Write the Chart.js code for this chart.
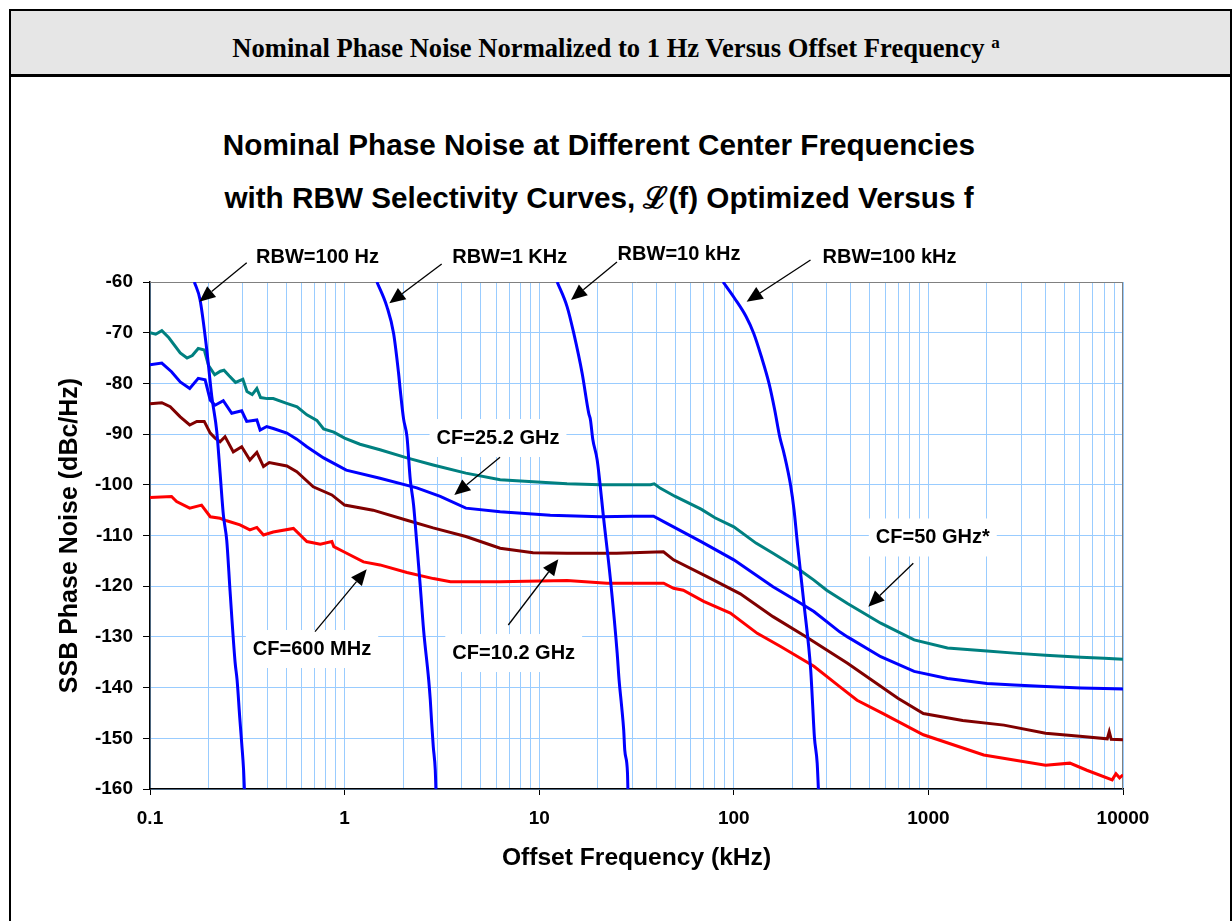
<!DOCTYPE html>
<html>
<head>
<meta charset="utf-8">
<title>Nominal Phase Noise</title>
<script src="https://cdn.jsdelivr.net/npm/chart.js@4.4.1/dist/chart.umd.min.js"></script>
<style>
  html, body { margin: 0; padding: 0; background: #fff; }
  body { width: 1232px; height: 921px; position: relative; overflow: hidden; }
  .frame { position: absolute; left: 9px; top: 9px; width: 1219px; height: 960px; border: 2px solid #000; }
  .header { position: absolute; left: 11px; top: 11px; width: 1219px; height: 63px; background: #e6e6e6; border-bottom: 3px solid #000; }
  .header-text { position: absolute; left: 0; width: 1232px; top: 33px; text-align: center;
    font: bold 26.6px "Liberation Serif", "Times New Roman", serif; line-height: 30px; color: #000; }
  .header-text sup { font-size: 17px; vertical-align: 9px; line-height: 0; }
  .chart-title { position: absolute; left: 0; width: 1198px; top: 118px; text-align: center;
    font: bold 29.7px "Liberation Sans", Arial, sans-serif; line-height: 53px; color: #000; }
  #chart { position: absolute; left: 0; top: 0; }
</style>
</head>
<body>
<div class="frame"></div>
<div class="header"></div>
<div class="header-text">Nominal Phase Noise Normalized to 1 Hz Versus Offset Frequency <sup>a</sup></div>
<div class="chart-title">Nominal Phase Noise at Different Center Frequencies<br>with RBW Selectivity Curves, &#x2112;(f) Optimized Versus f</div>
<canvas id="chart" width="1232" height="921"></canvas>
<script>
// offset frequency in kHz, level in dBc/Hz
const cf50Freq = [0.1,0.107,0.115,0.125,0.143,0.155,0.165,0.177,0.19,0.2,0.215,0.23,0.24,0.255,0.275,0.3,0.315,0.335,0.354,0.37,0.4,0.43,0.5,0.57,0.64,0.72,0.78,0.88,1.0,1.2,1.52,2.09,2.85,4.2,6.3,9.3,13.9,20.6,30,37.3,39,42,50,67.9,80,100,130,159,213,258,300,384,569,845,1253,2000,2760,4000,6080,8000,10000];
const cf50Level = [-70,-70.3,-69.6,-71,-74,-75,-74.5,-73.1,-73.4,-76.5,-78.3,-77.6,-77.4,-78.5,-79.8,-79.2,-81.6,-82.2,-81,-82.8,-83,-83,-83.9,-84.6,-86.2,-87.3,-89,-89.6,-90.8,-92,-93.1,-94.7,-96.1,-97.7,-99,-99.4,-99.8,-100,-100,-100,-99.8,-100.7,-102.3,-104.8,-106.5,-108.3,-111.5,-113.5,-116.5,-118.8,-120.8,-123.4,-127.3,-130.6,-132.2,-132.8,-133.2,-133.6,-134,-134.2,-134.4];

const cf25Freq = [0.1,0.115,0.129,0.143,0.16,0.177,0.192,0.204,0.216,0.238,0.263,0.296,0.314,0.354,0.368,0.398,0.43,0.505,0.568,0.64,0.78,1.02,1.52,2.35,3.1,4.2,6.3,11.4,20.6,30,38.7,45.3,67.9,100,159,213,258,350,384,569,845,1253,2000,2760,4000,6080,8000,10000];
const cf25Level = [-76.3,-76,-77.7,-79.7,-81,-79,-79.3,-83.3,-84.3,-83.4,-85.9,-85.4,-87.5,-87.2,-89.2,-88.5,-88.9,-89.8,-91,-92.5,-94.7,-97.1,-98.7,-100.6,-102.3,-104.6,-105.3,-106,-106.3,-106.2,-106.2,-107.6,-111.2,-114.8,-120.1,-123,-125,-129,-130,-133.9,-136.8,-138.2,-139.2,-139.5,-139.8,-140.1,-140.2,-140.3];

const cf10Freq = [0.1,0.115,0.127,0.143,0.16,0.174,0.19,0.204,0.216,0.229,0.243,0.268,0.296,0.326,0.354,0.383,0.41,0.505,0.568,0.69,0.86,1.0,1.4,2.09,2.85,4.2,6.3,9.3,13.9,25,43.5,49,72.8,108,159,236,350,384,697,942,1500,2443,4000,6000,8300,8500,8700,10000];
const cf10Level = [-84,-83.8,-84.6,-86.6,-88.2,-87.5,-87.5,-89.8,-90.8,-91.5,-90.5,-93.5,-92.5,-95.1,-93.6,-96.4,-95.6,-96.3,-97.4,-100.4,-102,-104,-105,-107,-108.5,-110.2,-112.5,-113.4,-113.5,-113.5,-113.2,-114.8,-118.1,-121.5,-126,-130,-134.2,-135.2,-142.1,-145.1,-146.5,-147.4,-149,-149.6,-150.1,-148.7,-150.2,-150.3];

const cf600Freq = [0.1,0.129,0.137,0.16,0.184,0.204,0.229,0.248,0.29,0.326,0.354,0.383,0.43,0.546,0.64,0.75,0.86,0.88,0.99,1.25,1.52,2.09,2.86,3.5,6.3,13.9,22.3,43.6,49,55,70,96,132,174,258,350,430,582,942,1924,4000,5333,6520,8800,9200,9600,10000];
const cf600Level = [-102.5,-102.3,-103.3,-104.6,-104,-106.3,-106.6,-107.1,-107.9,-108.9,-108.4,-109.9,-109.3,-108.6,-111.2,-111.7,-111.2,-112.2,-113.2,-115.2,-115.8,-117.3,-118.5,-119.1,-119.1,-118.9,-119.4,-119.4,-120.4,-120.8,-123,-125.3,-129.3,-131.9,-135.8,-139.8,-142.5,-145.1,-149.3,-153.3,-155.3,-154.9,-156.3,-158.2,-157,-157.8,-157.2];

// RBW selectivity curves
const rbw100Freq = [0.169,0.1808,0.1958,0.2078,0.2204,0.2292,0.2383,0.248,0.2579,0.2737,0.2802,0.2893,0.296,0.3027,0.3056];
const rbw100Level = [-60,-63.5,-73.4,-82.6,-89.5,-97.7,-106,-111,-121,-135,-138.5,-146,-151,-156.3,-160];
const rbw1kFreq = [1.466,1.651,1.785,1.894,1.932,2.009,2.092,2.175,2.262,2.355,2.448,2.546,2.705,2.756,2.802,2.856,2.924,2.945];
const rbw1kLevel = [-60,-64.9,-70.1,-78,-81.3,-87,-90.5,-99,-104,-112,-120,-128.6,-138.5,-142.4,-147,-151.7,-156.3,-160];
const rbw10kFreq = [12.37,13.92,15.05,16.62,17.97,18.34,18.85,19.86,21.47,23.25,25.16,25.73,26.54,27.18,27.53,28.42,28.56];
const rbw10kLevel = [-60,-64.9,-70.1,-78,-85.9,-87.2,-91,-95.1,-106.9,-118.8,-133.2,-138.5,-143.8,-148.4,-152.4,-156.8,-160];
const rbw100kFreq = [88.1,100.9,115.6,126.5,138.5,151.7,162.2,172.1,181.1,196,204,212.2,229.4,248.4,253.4,259.5,268.2,272.1];
const rbw100kLevel = [-60,-63.2,-66.8,-70.1,-74.7,-80,-85.2,-90.5,-93.8,-100.2,-105,-111.5,-123.5,-136.5,-142.4,-149.7,-154.9,-160];

// axis ticks
const xDecades = [0.1, 1, 10, 100, 1000];
const xSteps = [1, 2, 3, 4, 5, 6, 7, 8, 9];
const xTickLabels = ['0.1', '1', '10', '100', '1000', '10000'];
const xTickValues = [0.1, 1, 10, 100, 1000, 10000];

// callouts: label centre, arrow tail and arrow tip, in (kHz, dBc/Hz)
const calloutText = ['RBW=100 Hz', 'RBW=1 KHz', 'RBW=10 kHz', 'RBW=100 kHz', 'CF=25.2 GHz', 'CF=50 GHz*', 'CF=600 MHz', 'CF=10.2 GHz'];
const calloutAt = [[0.7257,-55.17],[7.054,-55.17],[52.3,-54.48],[631,-55.17],[6.143,-90.77],[1053.4,-110.39],[0.6801,-132.39],[7.396,-133.18]];
const arrowFrom = [[0.3141,-56.19],[3.155,-56.45],[25.1,-56.06],[247.9,-55.66],[6.29,-94.58],[836.3,-115.48],[0.7047,-128.97],[6.937,-127.65]];
const arrowTo = [[0.1792,-63.89],[1.697,-64.2],[14.57,-63.55],[116.4,-63.89],[3.662,-102.01],[491.1,-124.04],[1.299,-116.67],[12.54,-114.69]];

const FONT = '"Liberation Sans", Arial, sans-serif';

function points(freq, level) {
    return freq.map((f, i) => ({ x: f, y: level[i] }));
}

function line(label, freq, level, color, smooth) {
    return {
        label: label,
        data: points(freq, level),
        borderColor: color,
        borderWidth: 3,
        pointRadius: 0,
        cubicInterpolationMode: smooth ? 'monotone' : 'default',
        tension: 0,
        fill: false
    };
}

const callouts = {
    id: 'callouts',
    beforeDatasetsDraw(chart) {
        const { ctx, chartArea: area, scales: { x, y } } = chart;
        ctx.save();
        // top and right frame of the plot
        ctx.strokeStyle = '#808080';
        ctx.lineWidth = 1;
        ctx.beginPath();
        ctx.moveTo(area.left, area.top + 0.5);
        ctx.lineTo(area.right, area.top + 0.5);
        ctx.moveTo(area.right - 0.5, area.top);
        ctx.lineTo(area.right - 0.5, area.bottom);
        ctx.stroke();
        // white boxes behind the labels
        ctx.font = 'bold 20px ' + FONT;
        ctx.fillStyle = '#fff';
        calloutText.forEach((text, i) => {
            const w = ctx.measureText(text).width + 14;
            const cx = x.getPixelForValue(calloutAt[i][0]);
            const cy = y.getPixelForValue(calloutAt[i][1]);
            ctx.fillRect(cx - w / 2, cy - 19, w, 38);
        });
        ctx.restore();
    },
    afterDatasetsDraw(chart) {
        const { ctx, scales: { x, y } } = chart;
        ctx.save();
        ctx.strokeStyle = '#000';
        ctx.fillStyle = '#000';
        ctx.lineWidth = 1.3;
        calloutText.forEach((text, i) => {
            const x0 = x.getPixelForValue(arrowFrom[i][0]);
            const y0 = y.getPixelForValue(arrowFrom[i][1]);
            const x1 = x.getPixelForValue(arrowTo[i][0]);
            const y1 = y.getPixelForValue(arrowTo[i][1]);
            const ang = Math.atan2(y1 - y0, x1 - x0);
            const head = 16, half = 7;
            const bx = x1 - head * Math.cos(ang);
            const by = y1 - head * Math.sin(ang);
            ctx.beginPath();
            ctx.moveTo(x0, y0);
            ctx.lineTo(bx, by);
            ctx.stroke();
            ctx.beginPath();
            ctx.moveTo(x1, y1);
            ctx.lineTo(bx + half * Math.sin(ang), by - half * Math.cos(ang));
            ctx.lineTo(bx - half * Math.sin(ang), by + half * Math.cos(ang));
            ctx.closePath();
            ctx.fill();
        });
        ctx.font = 'bold 20px ' + FONT;
        ctx.textAlign = 'center';
        ctx.textBaseline = 'middle';
        calloutText.forEach((text, i) => {
            ctx.fillText(text, x.getPixelForValue(calloutAt[i][0]), y.getPixelForValue(calloutAt[i][1]));
        });
        ctx.restore();
    }
};

new Chart(document.getElementById('chart'), {
    type: 'line',
    data: {
        datasets: [
            line('RBW=100 Hz', rbw100Freq, rbw100Level, '#0000ff', true),
            line('RBW=1 KHz', rbw1kFreq, rbw1kLevel, '#0000ff', true),
            line('RBW=10 kHz', rbw10kFreq, rbw10kLevel, '#0000ff', true),
            line('RBW=100 kHz', rbw100kFreq, rbw100kLevel, '#0000ff', true),
            line('CF=50 GHz', cf50Freq, cf50Level, '#008080', false),
            line('CF=25.2 GHz', cf25Freq, cf25Level, '#0000ff', false),
            line('CF=10.2 GHz', cf10Freq, cf10Level, '#800000', false),
            line('CF=600 MHz', cf600Freq, cf600Level, '#ff0000', false)
        ]
    },
    options: {
        responsive: false,
        animation: false,
        devicePixelRatio: 1,
        layout: { padding: { left: 45, top: 282, right: 109, bottom: 32 } },
        plugins: {
            legend: { display: false },
            tooltip: { enabled: false }
        },
        scales: {
            x: {
                type: 'logarithmic',
                min: 0.1,
                max: 10000,
                afterBuildTicks(scale) {
                    const ticks = [];
                    xDecades.forEach(d => xSteps.forEach(s => {
                        const v = +(d * s).toPrecision(3);
                        ticks.push({ value: v, major: s === 1 });
                    }));
                    ticks.push({ value: 10000, major: true });
                    scale.ticks = ticks;
                },
                afterFit(scale) { scale.height = 100; },
                grid: {
                    color: '#99ccff',
                    lineWidth: 1,
                    tickLength: 6,
                    tickColor: (c) => (c.tick && c.tick.major ? '#000' : 'rgba(0,0,0,0)')
                },
                border: { color: '#000', width: 1.5 },
                ticks: {
                    autoSkip: false,
                    maxRotation: 0,
                    padding: 12,
                    color: '#000',
                    font: { family: FONT, size: 19, weight: 'bold' },
                    callback: (value) => {
                        const i = xTickValues.findIndex(v => Math.abs(v - value) < v * 1e-6);
                        return i >= 0 ? xTickLabels[i] : '';
                    }
                },
                title: {
                    display: true,
                    text: 'Offset Frequency (kHz)',
                    color: '#000',
                    font: { family: FONT, size: 24.6, weight: 'bold' },
                    padding: { top: 0, bottom: 16.3 }
                }
            },
            y: {
                type: 'linear',
                min: -160,
                max: -60,
                afterFit(scale) { scale.width = 105; },
                grid: {
                    color: '#99ccff',
                    lineWidth: 1,
                    tickLength: 7,
                    tickColor: '#000'
                },
                border: { color: '#000', width: 1.5 },
                ticks: {
                    stepSize: 10,
                    padding: 10,
                    color: '#000',
                    font: { family: FONT, size: 19, weight: 'bold' }
                },
                title: {
                    display: true,
                    text: 'SSB Phase Noise (dBc/Hz)',
                    color: '#000',
                    font: { family: FONT, size: 25, weight: 'bold' },
                    padding: { top: 10, bottom: 0 }
                }
            }
        }
    },
    plugins: [callouts]
});
</script>
</body>
</html>
